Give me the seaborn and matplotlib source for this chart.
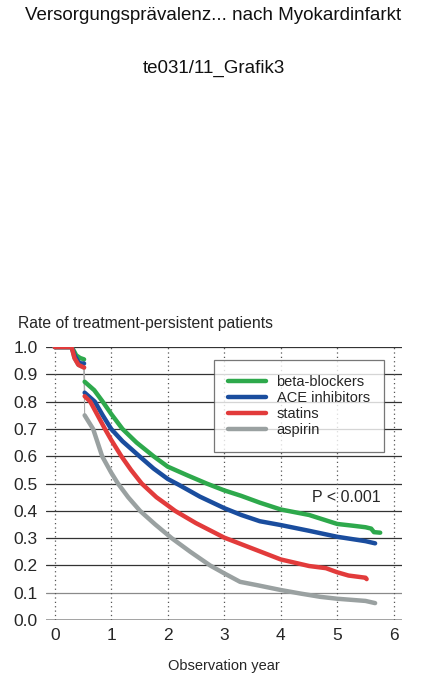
"""Persistence curves after myocardial infarction."""

import matplotlib

matplotlib.use("Agg")
import matplotlib.pyplot as plt
import pandas as pd
import seaborn as sns

series_names = ["beta-blockers", "ACE inhibitors", "statins", "aspirin"]
series_colors = ["#2ea94c", "#1a4d9e", "#e23b3b", "#9aa1a1"]
draw_order = ["aspirin", "beta-blockers", "ACE inhibitors", "statins"]

# index of the first point after the big drop at ~0.5 years
drop_index = 6

beta_x = [0, 0.30, 0.33, 0.38, 0.45, 0.52, 0.53, 0.7, 0.85, 1.0, 1.2, 1.45, 1.75, 2.0,
          2.35, 2.69, 3.0, 3.3, 3.63, 4.0, 4.5, 5.0, 5.3, 5.5, 5.6, 5.65, 5.76]
beta_y = [1.0, 1.0, 0.99, 0.97, 0.96, 0.955, 0.873, 0.842, 0.80, 0.755, 0.70, 0.65, 0.60,
          0.562, 0.53, 0.50, 0.475, 0.455, 0.43, 0.405, 0.385, 0.352, 0.345, 0.34, 0.335,
          0.322, 0.32]

ace_x = [0, 0.30, 0.35, 0.42, 0.47, 0.52, 0.53, 0.71, 0.85, 1.0, 1.2, 1.5, 1.75, 2.0, 2.2,
         2.57, 3.0, 3.3, 3.63, 4.0, 4.5, 5.0, 5.5, 5.67]
ace_y = [1.0, 1.0, 0.97, 0.945, 0.94, 0.94, 0.833, 0.80, 0.75, 0.70, 0.655, 0.60, 0.555,
         0.517, 0.495, 0.452, 0.41, 0.385, 0.362, 0.348, 0.327, 0.305, 0.289, 0.281]

statin_x = [0, 0.30, 0.35, 0.42, 0.47, 0.52, 0.53, 0.63, 0.76, 0.89, 1.0, 1.18, 1.35, 1.54,
            1.8, 2.0, 2.13, 2.5, 3.0, 3.5, 4.0, 4.5, 4.8, 5.0, 5.2, 5.5, 5.52]
statin_y = [1.0, 1.0, 0.96, 0.935, 0.93, 0.925, 0.82, 0.80, 0.75, 0.70, 0.66, 0.60, 0.55,
            0.50, 0.45, 0.42, 0.40, 0.355, 0.302, 0.262, 0.222, 0.198, 0.19, 0.175, 0.163,
            0.155, 0.15]

aspirin_x = [0, 0.30, 0.35, 0.42, 0.47, 0.52, 0.53, 0.68, 0.84, 1.0, 1.12, 1.3, 1.51, 1.78,
             2.07, 2.4, 2.75, 3.0, 3.28, 3.6, 4.0, 4.35, 4.7, 5.0, 5.5, 5.67]
aspirin_y = [1.0, 1.0, 0.96, 0.935, 0.93, 0.925, 0.75, 0.70, 0.60, 0.54, 0.50, 0.45, 0.40,
             0.35, 0.30, 0.25, 0.20, 0.171, 0.14, 0.127, 0.11, 0.097, 0.085, 0.078, 0.07,
             0.062]

x_ticks = [0, 1, 2, 3, 4, 5, 6]
y_ticks = [0.0, 0.1, 0.2, 0.3, 0.4, 0.5, 0.6, 0.7, 0.8, 0.9, 1.0]

series = {
    "beta-blockers": (beta_x, beta_y),
    "ACE inhibitors": (ace_x, ace_y),
    "statins": (statin_x, statin_y),
    "aspirin": (aspirin_x, aspirin_y),
}

frames = []
for name, (xs, ys) in series.items():
    seg = [0 if i < drop_index else 1 for i in range(len(xs))]
    frames.append(pd.DataFrame({"year": xs, "rate": ys, "drug": name, "seg": seg}))
df = pd.concat(frames, ignore_index=True)

palette = dict(zip(series_names, series_colors))

sns.set_style("white")
plt.rcParams["font.family"] = ["Liberation Sans", "DejaVu Sans"]

fig = plt.figure(figsize=(4.27, 6.91), dpi=100)
fig.text(0.5, 0.978, "Versorgungsprävalenz... nach Myokardinfarkt", ha="center", va="center",
         fontsize=13.5, color="#111111")
fig.text(0.5, 0.901, "te031/11_Grafik3", ha="center", va="center", fontsize=13.5, color="#111111")

ax = fig.add_axes([0.1077, 0.1027, 0.833, 0.395])

for y in y_ticks:
    ax.axhline(y, color="#8a8a8a" if y in (0.0, 0.1) else "#333333", lw=1.1 if y == 0.0 else 0.9,
               zorder=1)
for x in x_ticks:
    ax.axvline(x, color="#555555", lw=0.9, ls=(0, (1, 2.5)), zorder=1)

for name in draw_order:
    xs, ys = series[name]
    # thin connector across the drop, as in the original
    ax.plot([xs[drop_index - 1], xs[drop_index]], [ys[drop_index - 1], ys[drop_index]],
            color="#aaaaaa", lw=0.8, zorder=2)
    sub = df[df["drug"] == name]
    sns.lineplot(data=sub, x="year", y="rate", units="seg", estimator=None, sort=False,
                 color=palette[name], lw=3.2, ax=ax, legend=False, zorder=3)

ax.set_xlim(-0.154, 6.14)
ax.set_ylim(0, 1.0)
ax.set_xticks(x_ticks)
ax.set_yticks(y_ticks)
ax.set_xticklabels([str(v) for v in x_ticks], fontsize=12.5)
ax.set_yticklabels([f"{v:.1f}" for v in y_ticks], fontsize=12.5)
ax.tick_params(length=0, pad=6)
for side in ["top", "right", "left", "bottom"]:
    ax.spines[side].set_visible(False)

ax.set_xlabel("Observation year", fontsize=10.5, labelpad=11)
ax.set_ylabel("")
fig.text(0.042, 0.532, "Rate of treatment-persistent patients", ha="left", va="center",
         fontsize=11.3)

ax.text(4.55, 0.45, "P < 0.001", ha="left", va="center", fontsize=11.5)

handles = [plt.Line2D([], [], color=c, lw=3.2) for c in series_colors]
leg = ax.legend(handles, series_names, loc="upper right", bbox_to_anchor=(0.951, 0.952),
                borderaxespad=0, frameon=True, fancybox=False, handlelength=2.6,
                handletextpad=0.7, labelspacing=0.15, borderpad=1.0, prop={"size": 10.5})
leg.get_frame().set_edgecolor("#555555")
leg.get_frame().set_linewidth(0.9)
leg.set_zorder(5)

fig.savefig("out.png", dpi=100)
